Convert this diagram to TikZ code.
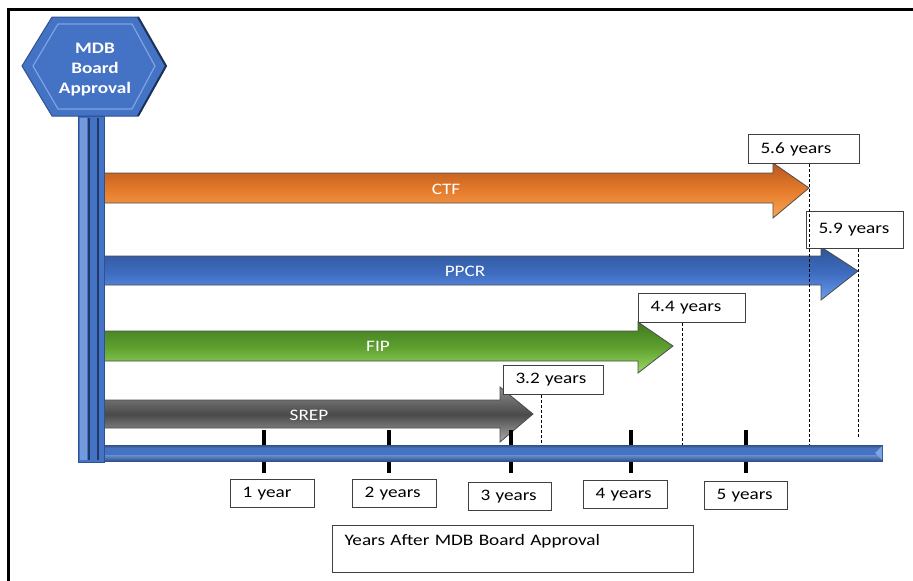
\documentclass[tikz,border=0pt]{standalone}
\usepackage{fontspec}
\setmainfont[FakeStretch=1.2]{Carlito}
\usetikzlibrary{positioning}
\definecolor{hexfill}{HTML}{4472C4}
\definecolor{hexdark}{HTML}{2F528F}
\definecolor{hexlight}{HTML}{7FA4E3}
\definecolor{ctftop}{HTML}{B9581C}
\definecolor{ctfmid}{HTML}{E57C2C}
\definecolor{ctfbot}{HTML}{FCA654}
\definecolor{ppcrtop}{HTML}{2F5597}
\definecolor{ppcrmid}{HTML}{3E6CC0}
\definecolor{ppcrbot}{HTML}{6B9EF2}
\definecolor{fiptop}{HTML}{3F7A1E}
\definecolor{fipmid}{HTML}{5FA030}
\definecolor{fipbot}{HTML}{9CDB62}
\definecolor{sreptop}{HTML}{8C8C8C}
\definecolor{srepmid}{HTML}{4A4A4A}
\definecolor{srepbot}{HTML}{ABABAB}

\begin{document}
\begin{tikzpicture}[x=1pt,y=-1pt,
    valbox/.style={draw=black!75, line width=1pt, fill=white, anchor=north west,
        inner xsep=12pt, inner ysep=0pt, align=left, font=\fontsize{16}{19}\selectfont},
    barlabel/.style={text=white, font=\fontsize{16}{19}\selectfont},
    progbar/.style={draw=black!70, line width=0.8pt},
    guide/.style={densely dashed, line width=0.6pt},
    yeartick/.style={line width=3.5pt}]
    \useasboundingbox (0,0) rectangle (913,581);
    \draw[line width=3pt] (8,585) -- (8,9) -- (917,9);

    \shade[progbar, top color=ctftop, bottom color=ctfbot, middle color=ctfmid]
        (104,173) -- (773,173) -- (773,163) -- (809,188) -- (773,218) -- (773,203) -- (104,203) -- cycle;
    \shade[progbar, top color=ppcrtop, bottom color=ppcrbot, middle color=ppcrmid]
        (104,256) -- (821,256) -- (821,247) -- (858,271) -- (821,300) -- (821,285) -- (104,285) -- cycle;
    \shade[progbar, top color=fiptop, bottom color=fipbot, middle color=fipmid]
        (104,331) -- (638,331) -- (638,322) -- (673,346) -- (638,373) -- (638,361) -- (104,361) -- cycle;
    \shade[progbar, top color=sreptop, bottom color=srepbot, middle color=srepmid]
        (104,400) -- (500,400) -- (500,387) -- (533,414) -- (500,442) -- (500,428) -- (104,428) -- cycle;
    \node[barlabel] (ctf) at (446,189) {CTF};
    \node[barlabel] (ppcr) at (465,271) {PPCR};
    \node[barlabel] (fip) at (378,346) {FIP};
    \node[barlabel] (srep) at (309,415) {SREP};
    \coordinate (ctftip) at (809,188);
    \coordinate (ppcrtip) at (858,271);
    \coordinate (fiptip) at (682,346);
    \coordinate (sreptip) at (541,414);
    \coordinate (axistop) at (104,445);

    \foreach \x in {264,389,511,631,746}
        \draw[yeartick] (\x,430) -- (\x,473);

    \shade[top color=hexdark, bottom color=hexdark, middle color=hexlight] (104,445) rectangle (882,461);
    \fill[hexfill] (104,449) rectangle (882,455);
    \draw[hexdark, line width=0.8pt] (104,445) rectangle (882,461);
    \fill[hexlight] (882,446) -- (875,453) -- (882,460) -- cycle;

    \fill[hexfill] (78,116) rectangle (104,462);
    \fill[hexlight!80!hexfill] (80,118) rectangle (87,460);
    \draw[hexdark!70!black, line width=1.5pt] (89,118) -- (89,460);
    \draw[hexdark!70!black, line width=1.5pt] (98,118) -- (98,460);
    \draw[hexdark, line width=0.8pt] (78,116) rectangle (104,462);

    \fill[hexfill] (22,66) -- (52,17) -- (138,17) -- (166,66) -- (138,116) -- (52,116) -- cycle;
    \draw[hexlight, line width=1.2pt] (33,66) -- (58,24) -- (132,24) -- (155,66) -- (132,109) -- (58,109) -- cycle;
    \draw[hexdark, line width=1pt] (22,66) -- (52,17) -- (138,17) -- (166,66) -- (138,116) -- (52,116) -- cycle;
    \draw[hexdark!60!black, line width=2pt] (138,17) -- (166,66) -- (138,116);
    \node[text=white, align=center, font=\bfseries\fontsize{16}{20}\selectfont] (mdb) at (95,70) {MDB\\Board\\Approval};

    \node[valbox, text width=87pt, minimum height=29pt] (ctfval) at (748,134) {5.6 years};
    \node[valbox, text width=73pt, minimum height=37pt] (ppcrval) at (806,211) {5.9 years};
    \node[valbox, text width=83pt, minimum height=29pt] (fipval) at (638,293) {4.4 years};
    \node[valbox, text width=76pt, minimum height=29pt] (srepval) at (503,365) {3.2 years};
    \draw[guide] (ctftip |- ctfval.south) -- (ctftip |- axistop);
    \draw[guide] (ppcrtip |- ppcrval.south) -- ([yshift=7pt]ppcrtip |- axistop);
    \draw[guide] (fiptip |- fipval.south) -- (fiptip |- axistop);
    \draw[guide] (sreptip |- srepval.south) -- (sreptip |- axistop);

    \node[valbox, text width=60pt, minimum height=28pt] (yr1) at (230,479) {1 year};
    \node[valbox, text width=60pt, minimum height=28pt] (yr2) at (352,479) {2 years};
    \node[valbox, text width=59pt, minimum height=28pt] (yr3) at (468,482) {3 years};
    \node[valbox, text width=60pt, minimum height=28pt] (yr4) at (583,480) {4 years};
    \node[valbox, text width=59pt, minimum height=28pt] (yr5) at (704,481) {5 years};

    \node[valbox, text width=337pt, inner ysep=4pt, text height=16pt, text depth=23pt] (axisname) at (332,525) {Years After MDB Board Approval};
\end{tikzpicture}
\end{document}
